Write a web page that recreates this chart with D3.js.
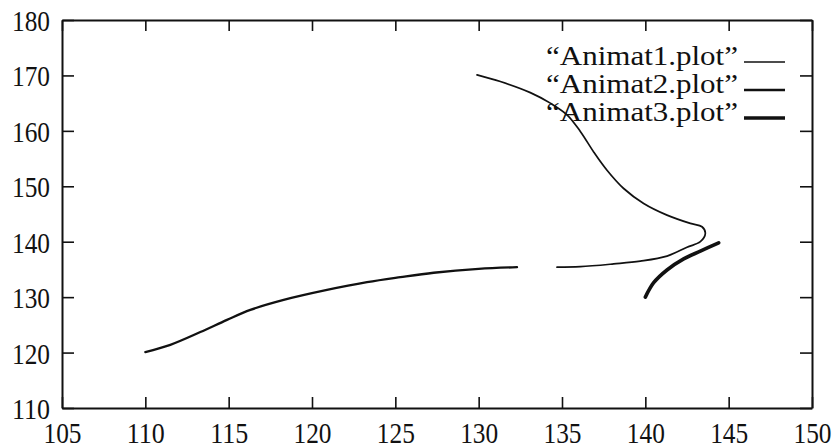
<!DOCTYPE html>
<html lang="en">
<head>
  <meta charset="UTF-8">
  <title>Animat plots</title>
  <style>
    body { margin: 0; background: #fff; }
    svg text { font-family: "Liberation Serif", "Times New Roman", serif; fill: #111; }
  </style>
</head>
<body>
  <svg id="svg" width="834" height="448"></svg>
  <script src="https://d3js.org/d3.v7.min.js"></script>
  <script>
    // tick labels
    const xTicks = [105, 110, 115, 120, 125, 130, 135, 140, 145, 150]
    const yTicks = [110, 120, 130, 140, 150, 160, 170, 180]

    // series
    const animat1 = [
      [129.9, 170.1], [131.3, 168.9], [133.1, 166.9], [134.3, 165.0], [135.3, 162.9],
      [136.1, 159.9], [136.9, 156.2], [137.7, 152.9], [138.7, 149.6], [139.9, 146.9],
      [141.3, 144.8], [142.7, 143.3], [143.4, 142.7], [143.6, 141.5], [143.3, 140.0],
      [142.5, 139.0], [141.3, 137.4], [139.7, 136.5], [138.1, 136.0], [136.1, 135.5],
      [134.7, 135.4]
    ]
    const animat2 = [
      [110.0, 120.1], [111.5, 121.4], [113.3, 123.7], [114.9, 125.9], [116.3, 127.7],
      [118.3, 129.5], [120.9, 131.3], [123.3, 132.7], [125.3, 133.6], [127.3, 134.4],
      [130.0, 135.1], [132.3, 135.4]
    ]
    const animat3 = [
      [140.0, 130.0], [140.5, 132.6], [141.3, 134.9], [142.3, 136.9], [143.3, 138.3],
      [144.4, 139.8]
    ]
    const seriesNames = ['“Animat1.plot”', '“Animat2.plot”', '“Animat3.plot”']
    const seriesData = [animat1, animat2, animat3]
    const seriesWidth = [1.7, 2.3, 3.6]

    const plotLeft = 62, plotRight = 812, plotTop = 20, plotBottom = 408

    const xScale = d3.scaleLinear().domain([105, 150]).range([plotLeft, plotRight])
    const yScale = d3.scaleLinear().domain([110, 180]).range([plotBottom, plotTop])

    const svg = d3.select('#svg')

    const styleAxis = g => {
      g.select('.domain').attr('stroke', '#111').attr('stroke-width', 2)
      g.selectAll('.tick line').attr('stroke', '#111').attr('stroke-width', 1.6)
      g.selectAll('.tick text')
        .attr('font-size', 29)
        .attr('fill', '#111')
        .attr('textLength', 38)
        .attr('lengthAdjust', 'spacingAndGlyphs')
    }

    svg.append('g')
      .attr('transform', `translate(0,${plotBottom})`)
      .call(d3.axisBottom(xScale).tickValues(xTicks).tickSizeInner(-11).tickSizeOuter(0).tickPadding(15))
      .call(styleAxis)
      .selectAll('.tick text')
      .attr('dy', '0.68em')
      // last label sits against the page edge
      .filter(d => d === 150)
      .attr('text-anchor', 'end')
      .attr('x', 19)

    svg.append('g')
      .attr('transform', `translate(0,${plotTop})`)
      .call(d3.axisTop(xScale).tickValues(xTicks).tickSizeInner(-11).tickSizeOuter(0).tickFormat(''))
      .call(styleAxis)

    svg.append('g')
      .attr('transform', `translate(${plotLeft},0)`)
      .call(d3.axisLeft(yScale).tickValues(yTicks).tickSizeInner(-12).tickSizeOuter(0).tickPadding(12))
      .call(styleAxis)
      .selectAll('.tick text').attr('dy', '0.36em')

    svg.append('g')
      .attr('transform', `translate(${plotRight},0)`)
      .call(d3.axisRight(yScale).tickValues(yTicks).tickSizeInner(-12).tickSizeOuter(0).tickFormat(''))
      .call(styleAxis)

    const line = d3.line()
      .x(d => xScale(d[0]))
      .y(d => yScale(d[1]))
      .curve(d3.curveCatmullRom)

    svg.selectAll('path.series')
      .data(seriesData)
      .enter()
      .append('path')
      .attr('class', 'series')
      .attr('d', line)
      .attr('fill', 'none')
      .attr('stroke', '#111')
      .attr('stroke-width', (d, i) => seriesWidth[i])
      .attr('stroke-linecap', 'round')
      .attr('stroke-linejoin', 'round')

    const rows = svg.append('g').selectAll('g')
      .data(seriesNames)
      .enter()
      .append('g')
      .attr('transform', (d, i) => `translate(0,${62 + i * 28})`)

    rows.append('text')
      .attr('x', 738)
      .attr('y', 3)
      .attr('text-anchor', 'end')
      .attr('font-size', 27)
      .attr('textLength', 192)
      .attr('lengthAdjust', 'spacingAndGlyphs')
      .text(d => d)

    rows.append('line')
      .attr('x1', 744)
      .attr('x2', 785)
      .attr('stroke', '#111')
      .attr('stroke-width', (d, i) => seriesWidth[i])
  </script>
</body>
</html>
